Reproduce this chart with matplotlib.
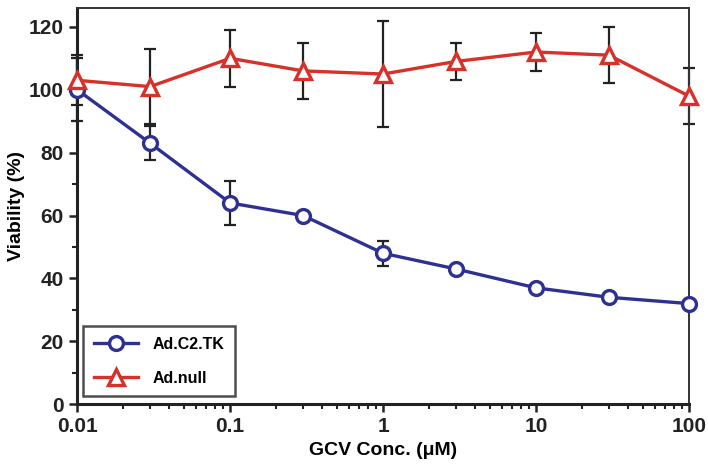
import matplotlib.pyplot as plt
import numpy as np
from matplotlib.ticker import FixedLocator, LogLocator, NullFormatter

plt.rcParams['font.family'] = ['Liberation Sans', 'DejaVu Sans']
plt.rcParams['font.weight'] = 'bold'

# GCV concentration (uM)
conc = [0.01, 0.03, 0.1, 0.3, 1, 3, 10, 30, 100]

# Ad.C2.TK viability and error
tk_mean = [100, 83, 64, 60, 48, 43, 37, 34, 32]
tk_err = [10, 5.5, 7, 0, 4, 0, 0, 0, 0]

# Ad.null viability and error
null_mean = [103, 101, 110, 106, 105, 109, 112, 111, 98]
null_err = [8, 12, 9, 9, 17, 6, 6, 9, 9]

x_ticks = [0.01, 0.1, 1, 10, 100]
x_labels = ['0.01', '0.1', '1', '10', '100']
y_ticks = [0, 20, 40, 60, 80, 100, 120]

blue = '#2e3192'
red = '#d7312a'

fig = plt.figure(figsize=(7.08, 4.70), dpi=100)
ax = fig.add_axes([0.109, 0.140, 0.864, 0.843])

# error bars first (black), then the lines/markers
ax.errorbar(conc, null_mean, yerr=null_err, fmt='none', ecolor='#222222',
            elinewidth=1.6, capsize=4, capthick=1.6, zorder=2, clip_on=False)
ax.errorbar(conc, tk_mean, yerr=tk_err, fmt='none', ecolor='#222222',
            elinewidth=1.6, capsize=4, capthick=1.6, zorder=2, clip_on=False)

ax.plot(conc, tk_mean, color=blue, lw=2.4, marker='o', ms=10,
        mfc='white', mec=blue, mew=2.4, label='Ad.C2.TK', zorder=3, clip_on=False)
ax.plot(conc, null_mean, color=red, lw=2.4, marker='^', ms=11,
        mfc='white', mec=red, mew=2.4, label='Ad.null', zorder=4, clip_on=False)

ax.set_xscale('log')
ax.set_xlim(0.01, 100)
ax.set_ylim(0, 126)

ax.xaxis.set_major_locator(FixedLocator(x_ticks))
ax.set_xticklabels(x_labels)
ax.xaxis.set_minor_locator(LogLocator(base=10, subs=np.arange(2, 10)))
ax.xaxis.set_minor_formatter(NullFormatter())
ax.set_yticks(y_ticks)
ax.set_yticks([10, 30, 50, 70, 90, 110], minor=True)

ax.tick_params(axis='both', which='major', direction='out', length=6, width=1.8,
               labelsize=15, colors='#222222')
ax.tick_params(axis='both', which='minor', direction='out', length=3.5, width=1.5,
               colors='#222222')
for lab in ax.get_xticklabels() + ax.get_yticklabels():
    lab.set_fontweight('bold')

for side in ['left', 'bottom']:
    ax.spines[side].set_linewidth(2.2)
    ax.spines[side].set_color('#222222')
for side in ['top', 'right']:
    ax.spines[side].set_linewidth(1.4)
    ax.spines[side].set_color('#333333')

ax.set_xlabel('GCV Conc. (\u03bcM)', fontsize=14, fontweight='bold', labelpad=4)
ax.set_ylabel('Viability (%)', fontsize=14, fontweight='bold', labelpad=3)

leg = ax.legend(loc='lower left', bbox_to_anchor=(0.01, 0.02), fontsize=11.5,
                frameon=True, fancybox=False, handlelength=2.75, borderpad=0.65,
                labelspacing=1.2, handletextpad=0.95, borderaxespad=0)
leg.get_frame().set_edgecolor('#222222')
leg.get_frame().set_linewidth(1.8)
for t in leg.get_texts():
    t.set_fontweight('bold')

plt.savefig('out.png', dpi=100)
